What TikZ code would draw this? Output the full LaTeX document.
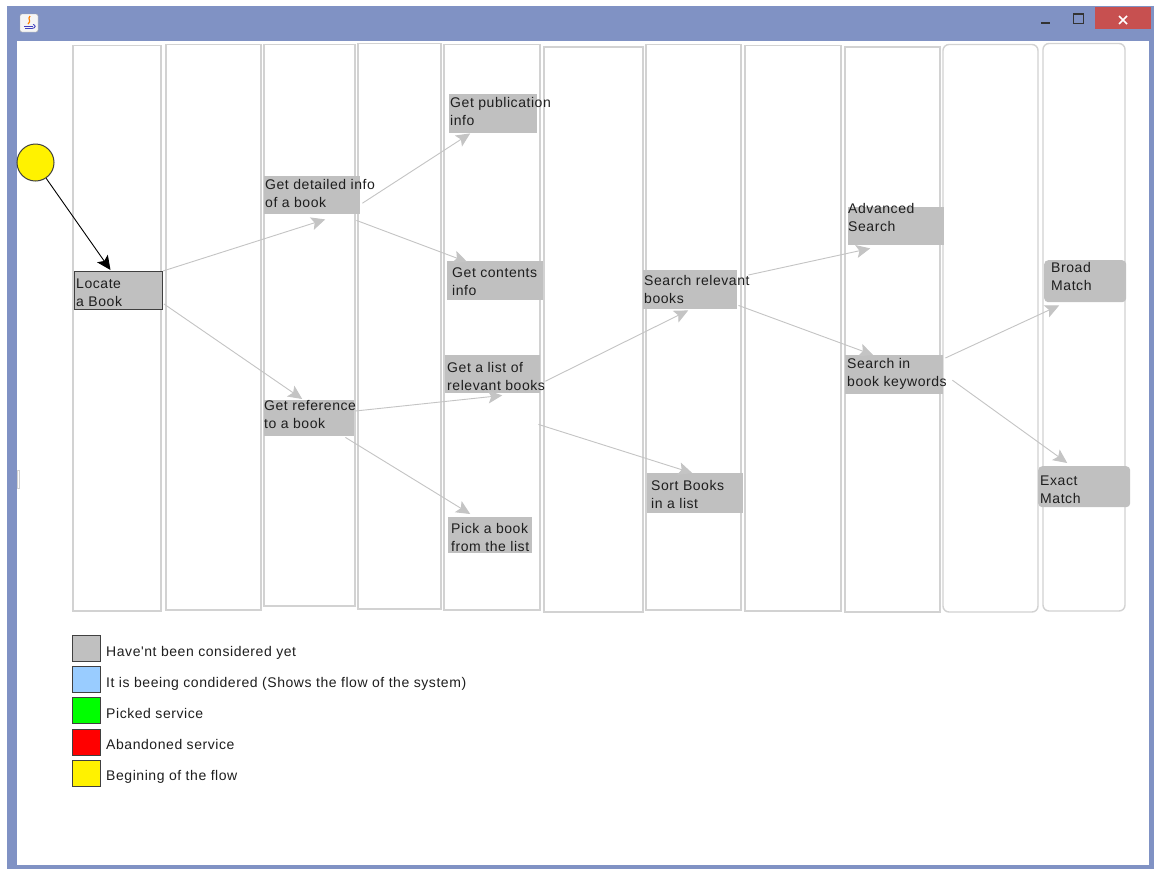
\documentclass[tikz,border=0pt]{standalone}
\usepackage{fontspec}
\setmainfont{Liberation Sans}
\newfontfamily\uifont[LetterSpace=4]{Liberation Sans}
\usetikzlibrary{arrows.meta}
\definecolor{frame}{RGB}{128,146,196}
\definecolor{closered}{RGB}{199,80,80}
\definecolor{lane}{RGB}{210,210,210}
\definecolor{svc}{RGB}{192,192,192}
\definecolor{flowline}{RGB}{196,196,196}
\definecolor{consider}{RGB}{153,204,255}
\definecolor{edgegray}{RGB}{64,64,64}
\definecolor{ink}{RGB}{30,30,30}

\begin{document}
\begin{tikzpicture}[x=1pt,y=-1pt,
  lanebox/.style={draw=lane, line width=1.4pt},
  svcbox/.style={fill=svc, draw=none, inner sep=0pt, anchor=north west},
  % multi-line labels: the base anchor sits on the last line's baseline
  svctext/.style={anchor=base west, inner sep=0pt, align=left,
    font=\uifont\fontsize{14}{18.3}\selectfont, text=ink},
  legbox/.style={draw=edgegray, line width=1pt, inner sep=0pt, anchor=north west,
    minimum width=28pt, minimum height=26pt},
  tip/.style={-{Stealth[length=14pt,width=13pt,inset=3pt]}},
  flow/.style={tip, draw=flowline, line width=0.9pt},
  startflow/.style={tip, draw=black, line width=0.9pt}
]
\useasboundingbox (0,0) rectangle (1154,871);

% window frame, title bar and client area
\fill[frame] (7,6) rectangle (1160,869);
\fill[white] (17,41) rectangle (1149,865);

% title bar icon
\draw[rounded corners=2pt, draw=gray!70, fill=gray!8] (20,14) rectangle (38,32);
\draw[orange, line width=1.2pt] (30,16) .. controls (27,19) and (32,21) .. (28,24);
\draw[blue!50!gray, line width=0.9pt] (24,26) -- (33,26) (25,28.5) -- (32,28.5);
\draw[blue!50!gray, line width=0.9pt] (33,24.5) .. controls (36,25) and (36,28) .. (32,28.5);

% window buttons
\draw[black!80, line width=2pt] (1041,23) -- (1050,23);
\draw[black!80, line width=1.2pt] (1073.5,13.5) rectangle (1083.5,23.5);
\draw[black!80, line width=2.2pt] (1073,14) -- (1084,14);
\fill[closered] (1095,7) rectangle (1151,29);
\draw[white, line width=1.6pt] (1119,16) -- (1127,24) (1119,24) -- (1127,16);

% small mark on the left edge
\draw[lane, line width=0.8pt] (17,470) rectangle (19.5,488);

% lanes
\draw[lanebox] (73,45.5) rectangle (161,611);
\draw[lanebox] (166,44.5) rectangle (261,610);
\draw[lanebox] (264,44.5) rectangle (355,606);
\draw[lanebox] (358,43.5) rectangle (441,609);
\draw[lanebox] (444,44.5) rectangle (540,610);
\draw[lanebox] (544,47) rectangle (643,612);
\draw[lanebox] (646,44.5) rectangle (741,610);
\draw[lanebox] (745,45.5) rectangle (841,611);
\draw[lanebox] (845,47) rectangle (940,612);
\draw[lanebox, rounded corners=6pt] (943,44.5) rectangle (1038,612);
\draw[lanebox, rounded corners=6pt] (1043,43.5) rectangle (1125,611);

% start of the flow
\node[circle, draw=edgegray, fill=yellow, line width=1pt, minimum size=37pt, inner sep=0pt]
  (start) at (35.5,162.5) {};

% services
\node[svcbox, draw=edgegray, line width=1pt, minimum width=88pt, minimum height=38pt] (locate) at (74,271) {};
\node[svcbox, minimum width=96pt, minimum height=38pt] (detail) at (264,176) {};
\node[svcbox, minimum width=88pt, minimum height=39pt] (pub) at (449,94) {};
\node[svcbox, minimum width=96pt, minimum height=39pt] (contents) at (447,261) {};
\node[svcbox, minimum width=90pt, minimum height=36pt] (ref) at (264,400) {};
\node[svcbox, minimum width=95pt, minimum height=38pt] (list) at (445,355) {};
\node[svcbox, minimum width=84pt, minimum height=36pt] (pick) at (448,517) {};
\node[svcbox, minimum width=94pt, minimum height=39pt] (searchrel) at (643,270) {};
\node[svcbox, minimum width=96pt, minimum height=38pt] (adv) at (848,207) {};
\node[svcbox, minimum width=98pt, minimum height=39pt] (keywords) at (845,355) {};
\node[svcbox, minimum width=96pt, minimum height=40pt] (sort) at (647,473) {};
\node[svcbox, rounded corners=4pt, minimum width=82pt, minimum height=42pt] (broad) at (1044,260) {};
\node[svcbox, rounded corners=4pt, minimum width=92pt, minimum height=41pt] (exact) at (1038,466) {};

% service labels (placed by the baseline of the second line)
\node[svctext] (locate-t) at (76,306.3) {Locate\\a Book};
\node[svctext] (detail-t) at (265,207.3) {Get detailed info\\of a book};
\node[svctext] (pub-t) at (450,125.3) {Get publication\\info};
\node[svctext] (contents-t) at (452,295.3) {Get contents\\info};
\node[svctext] (ref-t) at (264,428.3) {Get reference\\to a book};
\node[svctext] (list-t) at (447,390.3) {Get a list of\\relevant books};
\node[svctext] (pick-t) at (451,551.3) {Pick a book\\from the list};
\node[svctext] (searchrel-t) at (644,303.3) {Search relevant\\books};
\node[svctext] (adv-t) at (848,231.3) {Advanced\\Search};
\node[svctext] (keywords-t) at (847,386.3) {Search in\\book keywords};
\node[svctext] (sort-t) at (651,508.3) {Sort Books\\in a list};
\node[svctext] (broad-t) at (1051,290.3) {Broad\\Match};
\node[svctext] (exact-t) at (1040,503.3) {Exact\\Match};

% flow
\draw[startflow] (start.-56) -- ([shift={(-8,-1)}]locate.north);
\draw[flow] (locate.north east) -- ([shift={(13,5)}]detail.south);
\draw[flow] ([shift={(1,-6)}]locate.south east) -- ([shift={(-7,-1)}]ref.north);
\draw[flow] ([shift={(2,8)}]detail.east) -- ([shift={(-23,0)}]pub.south);
\draw[flow] ([shift={(-4,6)}]detail.south east) -- ([shift={(-28,1)}]contents.north);
\draw[flow] ([shift={(1,11)}]ref.north east) -- ([shift={(9.5,2)}]list.south);
\draw[flow] ([shift={(-9,1)}]ref.south east) -- ([shift={(-20,-3)}]pick.north);
\draw[flow] ([shift={(5,7)}]list.east) -- ([shift={(-2,1)}]searchrel.south);
\draw[flow] ([shift={(-2,31)}]list.south east) -- ([shift={(-3,0)}]sort.north);
\draw[flow] ([shift={(11,5)}]searchrel.north east) -- ([shift={(-26,3)}]adv.south);
\draw[flow] ([shift={(1,-4)}]searchrel.south east) -- ([shift={(-21,0)}]keywords.north);
\draw[flow] ([shift={(2,3)}]keywords.north east) -- ([shift={(-26,3)}]broad.south);
\draw[flow] ([shift={(9,5.5)}]keywords.east) -- ([shift={(-17,-3)}]exact.north);

% legend
\node[legbox, fill=svc] (leg1) at (72,635) {};
\node[legbox, fill=consider] (leg2) at (72,666) {};
\node[legbox, fill=green] (leg3) at (72,697) {};
\node[legbox, fill=red] (leg4) at (72,729) {};
\node[legbox, fill=yellow] (leg5) at (72,760) {};
\node[svctext] (leg1-t) at (106,656) {Have'nt been considered yet};
\node[svctext] (leg2-t) at (106,687) {It is beeing condidered (Shows the flow of the system)};
\node[svctext] (leg3-t) at (106,718) {Picked service};
\node[svctext] (leg4-t) at (106,749) {Abandoned service};
\node[svctext] (leg5-t) at (106,780) {Begining of the flow};
\end{tikzpicture}
\end{document}
